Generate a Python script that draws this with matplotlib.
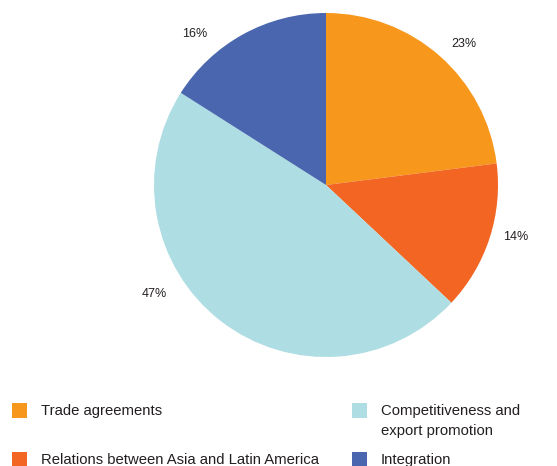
import math
import matplotlib
matplotlib.use("Agg")
import matplotlib.pyplot as plt
from matplotlib.patches import Rectangle

categories = ["Trade agreements",
              "Relations between Asia and Latin America",
              "Competitiveness and\nexport promotion",
              "Integration"]
shares = [23, 14, 47, 16]
colors = ["#F7981D", "#F26522", "#AEDDE3", "#4A66AE"]

W, H = 557, 466
plt.rcParams["font.family"] = ["Liberation Sans", "DejaVu Sans"]
txt_color = "#231F20"

fig = plt.figure(figsize=(W / 100, H / 100), dpi=100)
ax = fig.add_axes([0, 0, 1, 1])


def py(y):
    # pixel row (top-down) -> data y
    return H - y


cx, cy, r = 326, py(185), 172
ax.pie(shares, colors=colors, startangle=90, counterclock=False,
       center=(cx, cy), radius=r, wedgeprops=dict(linewidth=0))

# percent labels sit a bit outside the rim
label_ang = [45.6, -15.3, -147.6, 131.0]
label_dist = [1.146, 1.145, 1.185, 1.16]
for v, a, d in zip(shares, label_ang, label_dist):
    t = math.radians(a)
    ax.text(cx + d * r * math.cos(t), cy + d * r * math.sin(t), f"{v}%",
            ha="center", va="center", fontsize=9, color=txt_color)

# legend, two columns drawn by hand
sq_x = [12, 12, 352, 352]
sq_y = [403, 452, 403, 452]
for i, (lab, c) in enumerate(zip(categories, colors)):
    ax.add_patch(Rectangle((sq_x[i], py(sq_y[i] + 15)), 14.5, 15,
                           facecolor=c, edgecolor="none"))
    ax.text(sq_x[i] + 29, py(sq_y[i] + 1), lab, ha="left", va="top",
            fontsize=10.7, color=txt_color, linespacing=1.5)

ax.set_xlim(0, W)
ax.set_ylim(0, H)
ax.set_aspect("auto")
ax.axis("off")
fig.savefig("out.png", dpi=100)
